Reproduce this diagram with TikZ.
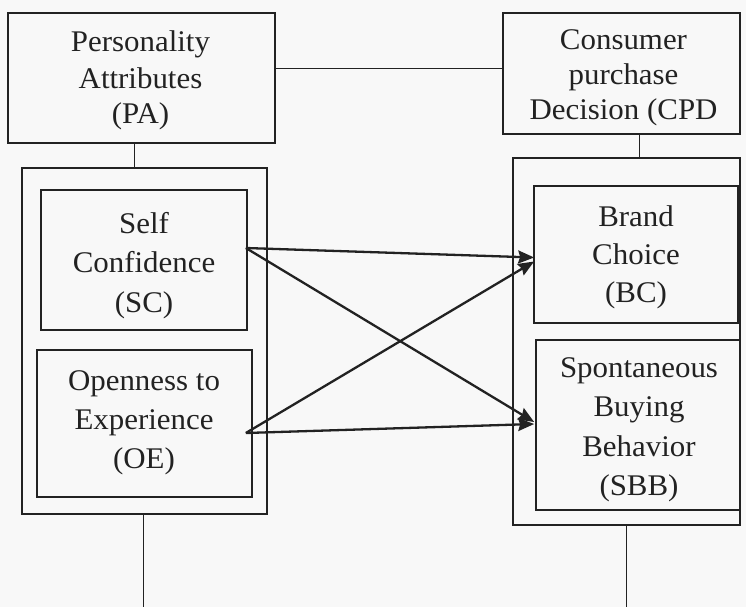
\documentclass[tikz,border=0pt]{standalone}
\usepackage{fontspec}
\setmainfont{Liberation Serif}[FakeStretch=1.03]
\usetikzlibrary{arrows.meta,calc}
\definecolor{ink}{HTML}{222222}
\definecolor{paper}{HTML}{F8F8F8}
\begin{document}
\begin{tikzpicture}[x=1pt,y=-1pt,
  box/.style={draw=ink,line width=1.7pt,rectangle,inner sep=0pt},
  txt/.style={inner sep=0pt,align=center,anchor=base,text=ink,
    font=\fontsize{30}{#1}\selectfont},
  txt/.default=39.5,
  link/.style={draw=ink,line width=1pt},
  arr/.style={draw=ink,line width=2.3pt,-{Stealth[length=16pt,width=13pt,inset=2pt]}}]
\fill[paper] (0,0) rectangle (746,607);
\useasboundingbox (0,0) rectangle (746,607);
% top boxes
\node[box,minimum width=267pt,minimum height=130pt] (pa) at (141.5,78) {};
\node[box,minimum width=237pt,minimum height=121pt] (cpd) at (621.5,73.5) {};
% outer boxes
\node[box,minimum width=245pt,minimum height=346pt] (lo) at (144.5,341) {};
\node[box,minimum width=227pt,minimum height=367pt] (ro) at (626.5,341.5) {};
% inner boxes
\node[box,minimum width=206pt,minimum height=140pt] (sc) at (144,260) {};
\node[box,minimum width=215pt,minimum height=147pt] (oe) at (144.5,423.5) {};
\node[box,minimum width=204pt,minimum height=137pt] (bc) at (636,254.5) {};
\node[box,minimum width=204pt,minimum height=170pt] (sbb) at (638,425) {};
% texts (anchored at the baseline of the last line)
\node[txt=36] (patext) at (140.5,124) {Personality\\Attributes\\(PA)};
\node[txt=35] (cpdtext) at (623.5,120) {Consumer\\purchase\\Decision (CPD};
\node[txt] (sctext) at (144,312) {Self\\Confidence\\(SC)};
\node[txt=38] (bctext) at (636,302) {Brand\\Choice\\(BC)};
\node[txt=39] (oetext) at (144,468) {Openness to\\Experience\\(OE)};
\node[txt] (sbbtext) at (639,495.5) {Spontaneous\\Buying\\Behavior\\(SBB)};
% links
\draw[link] (pa.east |- 0,69) -- (cpd.west |- 0,69);
\draw[link] ([xshift=-7pt]pa.south) -- ([xshift=-10pt]lo.north);
\draw[link] ([xshift=18pt]cpd.south) -- ([xshift=13pt]ro.north);
\coordinate (lbot) at (143,607);
\coordinate (rbot) at (626,607);
\draw[link] (lo.south -| lbot) -- (lbot);
\draw[link] (ro.south -| rbot) -- (rbot);
% arrows
\draw[arr] ([xshift=-2pt,yshift=12pt]sc.east) -- ([xshift=1pt,yshift=-3pt]bc.west);
\draw[arr] ([xshift=-2pt,yshift=12pt]sc.east) -- ([xshift=-1pt,yshift=3pt]sbb.west);
\draw[arr] ([xshift=-7pt,yshift=-9.5pt]oe.east) -- ([xshift=1pt,yshift=-7pt]bc.west);
\draw[arr] ([xshift=-7pt,yshift=-9.5pt]oe.east) -- ([xshift=-1pt,yshift=1pt]sbb.west);
\end{tikzpicture}
\end{document}
